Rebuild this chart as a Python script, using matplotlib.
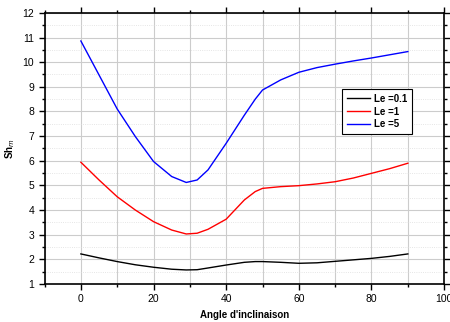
import numpy as np
import matplotlib
matplotlib.use('Agg')
import matplotlib.pyplot as plt
from matplotlib.ticker import MultipleLocator

plt.rcParams['font.family'] = ['Liberation Sans', 'DejaVu Sans']

# Angle d'inclinaison (degrees)
angle = [0, 5, 10, 15, 20, 25, 29, 32, 35, 40, 45, 48, 50, 55, 60, 65, 70, 75, 80, 85, 90]
# Sh_m for each Lewis number
sh_le01 = [2.22, 2.06, 1.91, 1.78, 1.68, 1.6, 1.57, 1.58, 1.65, 1.77, 1.88, 1.91, 1.91, 1.88, 1.84, 1.86, 1.92, 1.98, 2.04, 2.12, 2.22]
sh_le1 = [5.94, 5.22, 4.54, 4.0, 3.53, 3.19, 3.03, 3.06, 3.22, 3.63, 4.41, 4.75, 4.88, 4.95, 4.99, 5.06, 5.15, 5.3, 5.49, 5.68, 5.9]
sh_le5 = [10.86, 9.48, 8.1, 6.98, 5.97, 5.36, 5.12, 5.22, 5.63, 6.71, 7.85, 8.5, 8.87, 9.28, 9.59, 9.78, 9.92, 10.05, 10.17, 10.3, 10.43]

fig = plt.figure(figsize=(4.5, 3.22), dpi=100)
ax = fig.add_axes([0.099, 0.118, 0.888, 0.842])

ax.plot(angle, sh_le01, color='black', lw=1.0, label='Le =0.1')
ax.plot(angle, sh_le1, color='red', lw=1.0, label='Le =1')
ax.plot(angle, sh_le5, color='blue', lw=1.0, label='Le =5')

ax.set_xlim(-10, 100)
ax.set_ylim(1, 12)
ax.xaxis.set_major_locator(MultipleLocator(20))
ax.xaxis.set_minor_locator(MultipleLocator(10))
ax.yaxis.set_major_locator(MultipleLocator(1))
ax.yaxis.set_minor_locator(MultipleLocator(0.5))

ax.grid(which='major', axis='y', color='#cccccc', lw=0.8)
ax.grid(which='minor', axis='y', color='#dddddd', lw=0.6, ls=':')
ax.grid(which='both', axis='x', color='#cccccc', lw=0.8)
ax.set_axisbelow(True)

for s in ax.spines.values():
    s.set_linewidth(1.2)
ax.tick_params(which='both', top=True, right=True, labelsize=7.5, width=1.0, direction='out')
ax.tick_params(which='major', length=4)
ax.tick_params(which='minor', length=2.5)

ax.set_xlabel("Angle d'inclinaison", fontsize=7, fontweight='bold')
ax.set_ylabel('Sh$_m$', fontsize=7, fontweight='bold')

leg = ax.legend(loc='upper left', bbox_to_anchor=(0.745, 0.72),
                prop={'weight': 'bold', 'size': 7}, fancybox=False,
                edgecolor='black', framealpha=1, handlelength=2.4,
                borderpad=0.5, labelspacing=0.3, handletextpad=0.4,
                borderaxespad=0)
leg.get_frame().set_linewidth(0.8)

fig.savefig('out.png', dpi=100)
